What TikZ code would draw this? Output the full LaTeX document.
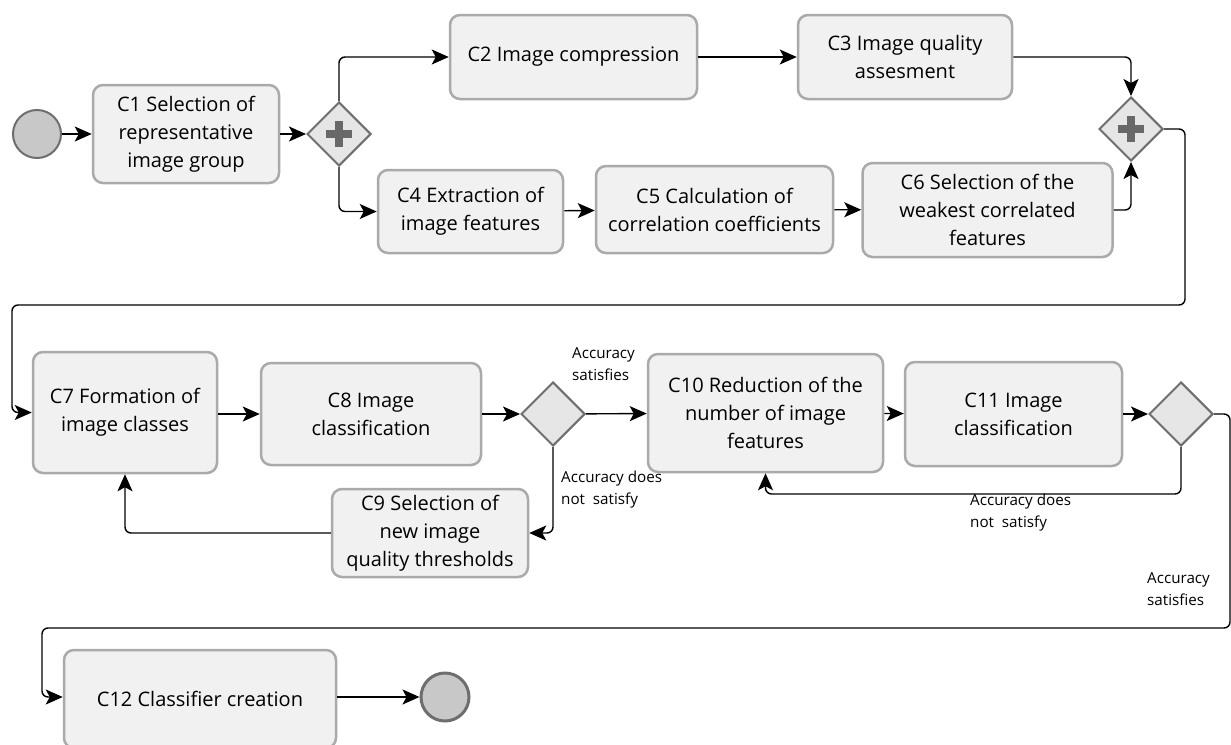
\documentclass[tikz,border=0pt]{standalone}
\usepackage{fontspec}
\setmainfont{Open Sans}
\usetikzlibrary{arrows.meta,shapes.geometric,calc}
\definecolor{boxfill}{HTML}{F1F1F1}
\definecolor{boxdraw}{HTML}{AAAAAA}
\definecolor{gwfill}{HTML}{E6E6E6}
\definecolor{gwdraw}{HTML}{6E6E6E}
\definecolor{plusc}{HTML}{686868}
\definecolor{evfill}{HTML}{C8C8C8}
\tikzset{
  task/.style={draw=boxdraw, fill=boxfill, line width=2.5pt, rounded corners=10pt,
    align=center, font=\fontsize{20}{28}\selectfont, inner sep=0pt},
  gw/.style={diamond, draw=gwdraw, fill=gwfill, line width=2pt, inner sep=0pt,
    minimum width=64pt, minimum height=64pt},
  ev/.style={circle, draw=gwdraw, fill=evfill, line width=2pt, minimum size=48pt, inner sep=0pt},
  flow/.style={line width=1.4pt, rounded corners=6pt, -{Stealth[length=17pt,width=15pt,inset=4pt]}},
  lbl/.style={font=\fontsize{15.2}{22}\selectfont, align=left, anchor=north west, inner sep=0pt}
}
\newcommand{\plussign}[1]{%
  \draw[plusc, line width=8pt] ($(#1)+(-13,0)$) -- ($(#1)+(13,0)$);
  \draw[plusc, line width=8pt] ($(#1)+(0,-13)$) -- ($(#1)+(0,13)$);}
\begin{document}
\begin{tikzpicture}[x=1pt,y=-1pt]
\useasboundingbox (0,0) rectangle (1231,744);
% events
\node[ev] (start) at (37,134) {};
\node[ev, line width=3pt] (end) at (445,697) {};
% tasks
\node[task, minimum width=186pt, minimum height=98pt] (c1) at (186,134) {C1 Selection of\\representative\\image group};
\node[task, minimum width=247pt, minimum height=84pt] (c2) at (573.5,57) {C2 Image compression};
\node[task, minimum width=214pt, minimum height=84pt] (c3) at (905,57) {C3 Image quality\\assesment};
\node[task, minimum width=185pt, minimum height=83pt] (c4) at (470.5,211.5) {C4 Extraction of\\image features};
\node[task, minimum width=237pt, minimum height=87pt] (c5) at (714.5,209.5) {C5 Calculation of\\correlation coefficients};
\node[task, minimum width=250pt, minimum height=94pt] (c6) at (987.5,210) {C6 Selection of the\\weakest correlated\\features};
\node[task, minimum width=184pt, minimum height=121pt] (c7) at (125,412.5) {C7 Formation of\\image classes};
\node[task, minimum width=220pt, minimum height=102pt] (c8) at (371,414) {C8 Image\\classification};
\node[task, minimum width=196pt, minimum height=88pt] (c9) at (430,533) {C9 Selection of\\new image\\quality thresholds};
\node[task, minimum width=235pt, minimum height=118pt] (c10) at (765.5,413) {C10 Reduction of the\\number of image\\features};
\node[task, minimum width=217pt, minimum height=104pt] (c11) at (1013.5,414) {C11 Image\\classification};
\node[task, minimum width=272pt, minimum height=98pt] (c12) at (200,699) {C12 Classifier creation};
% gateways
\node[gw] (g1) at (339,134) {};
\node[gw] (g2) at (1131,129) {};
\node[gw] (g3) at (553,414) {};
\node[gw] (g4) at (1181,414) {};
\plussign{g1}
\plussign{g2}
% helper coordinates
\coordinate (r1) at (1185,305);
\coordinate (l1) at (12,305);
\coordinate (b1) at (1000,494);
\coordinate (r2) at (1230,628);
\coordinate (l2) at (42,628);
% connectors
\draw[flow] (start) -- (c1);
\draw[flow] (c1) -- (g1);
\draw[flow] (g1.north) |- (c2.west);
\draw[flow] (g1.south) |- (c4.west);
\draw[flow] (c2) -- (c3);
\draw[flow] (c3.east) -| (g2.north);
\draw[flow] (c4) -- (c5);
\draw[flow] (c5) -- (c6);
\draw[flow] (c6.east) -| (g2.south);
\draw[flow] (g2.east) -| (r1) -- (l1) |- (c7.west);
\draw[flow] (c7.east |- c8.west) -- (c8.west);
\draw[flow] (c8) -- (g3);
\draw[flow] (g3) -- (c10);
\draw[flow] (g3.south) |- (c9.east);
\draw[flow] (c9.west) -| (c7.south);
\draw[flow] (c10) -- (c11);
\draw[flow] (c11) -- (g4);
\draw[flow] (g4.south) |- (b1) -| (c10.south);
\draw[flow] (g4.east) -| (r2) -- (l2) |- (c12.west |- end);
\draw[flow] (c12.east |- end) -- (end);
% labels
\node[lbl] (t1) at (572,347) {Accuracy\\satisfies};
\node[lbl] (t2) at (561,471) {Accuracy does\\not\ \ satisfy};
\node[lbl] (t3) at (970,494) {Accuracy does\\not\ \ satisfy};
\node[lbl] (t4) at (1147,572) {Accuracy\\satisfies};
\end{tikzpicture}
\end{document}
